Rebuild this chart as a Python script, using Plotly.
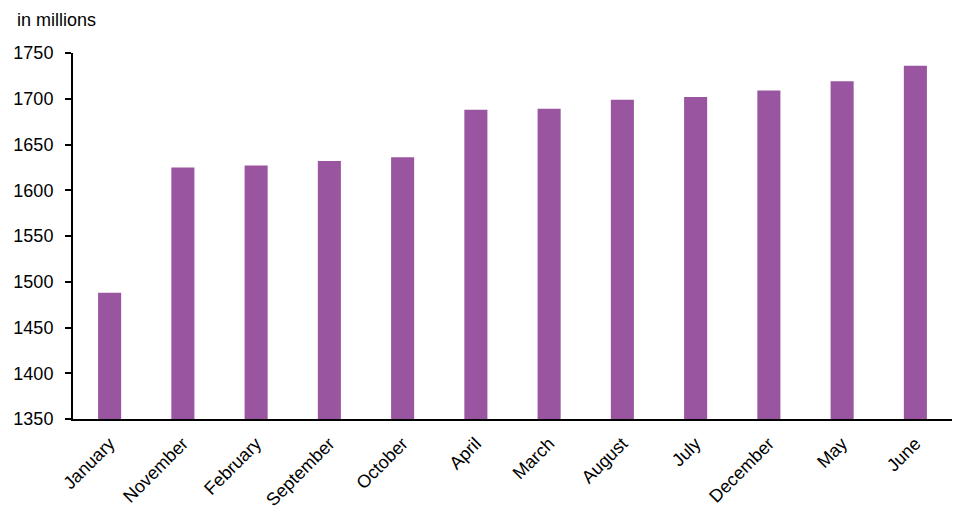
import plotly.graph_objects as go

months = ["January", "November", "February", "September", "October", "April",
          "March", "August", "July", "December", "May", "June"]
values = [1488, 1625, 1627, 1632, 1636, 1688, 1689, 1699, 1702, 1709, 1719, 1736]
y_ticks = [1350, 1400, 1450, 1500, 1550, 1600, 1650, 1700, 1750]

fig = go.Figure(go.Bar(x=months, y=values, marker_color="#9A55A0",
                       marker_line_width=0))

fig.update_layout(
    width=967, height=517,
    margin=dict(l=65, r=23, t=45, b=106, autoexpand=False),
    plot_bgcolor="white", paper_bgcolor="white",
    bargap=0.685,
    showlegend=False,
    font=dict(family="Liberation Sans, Arial, sans-serif", size=18, color="#000"),
    annotations=[dict(text="in millions", xref="paper", yref="paper",
                      x=-58/879, y=1+33/366, xanchor="left", yanchor="middle",
                      showarrow=False, font=dict(size=18))],
)

fig.update_xaxes(showline=True, linecolor="#000", linewidth=2, ticks="",
                 tickangle=-45, tickfont=dict(size=18), showgrid=False,
                 automargin=False, ticklabelstandoff=5)
fig.update_yaxes(range=[1350, 1750], tickvals=y_ticks, showline=True, linecolor="#000",
                 linewidth=2, ticks="outside", ticklen=6, tickwidth=2, tickcolor="#000",
                 showgrid=False, zeroline=False, tickfont=dict(size=18),
                 ticklabelstandoff=8, automargin=False)

fig.write_html("out.html")
